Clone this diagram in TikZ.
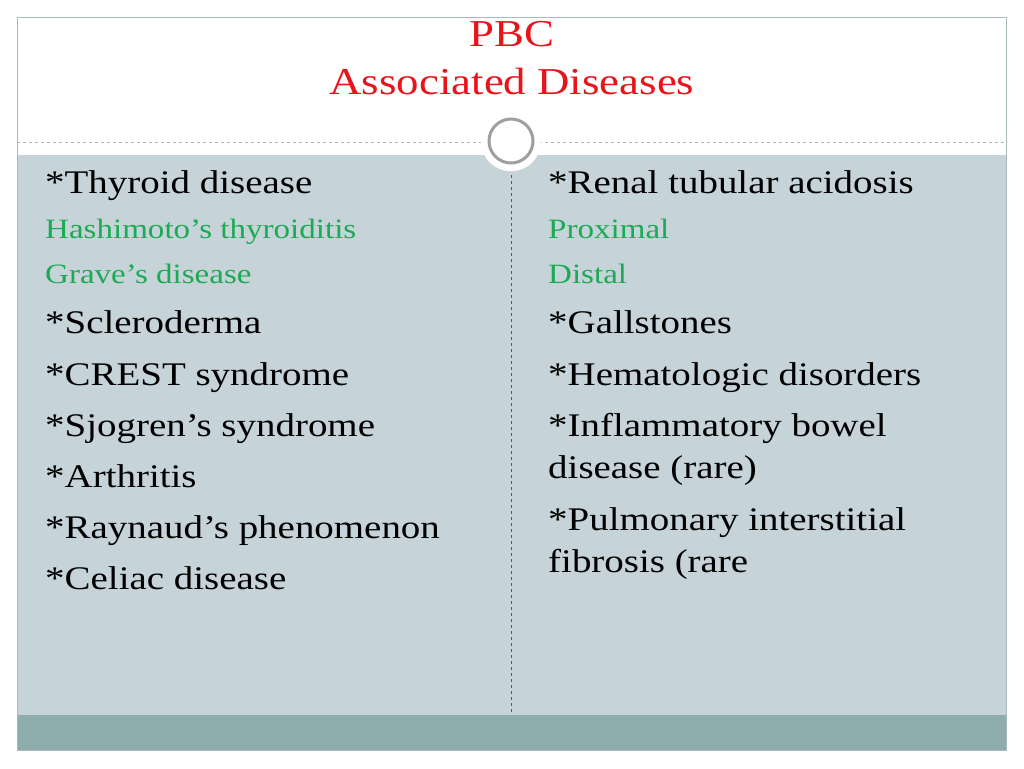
\documentclass[tikz,border=0pt]{standalone}
\usepackage{fontspec}
\setmainfont[FakeStretch=1.18]{Liberation Serif}
\definecolor{panel}{HTML}{C6D3D8}
\definecolor{band}{HTML}{8FACAD}
\definecolor{gr}{HTML}{1DAA55}
\definecolor{rd}{HTML}{E8141B}
\definecolor{frame}{HTML}{A9B8BC}
\begin{document}
\begin{tikzpicture}[x=1pt,y=-1pt,
  blk/.style={anchor=base west,inner sep=0pt,font=\fontsize{33}{38}\selectfont,text=black},
  grn/.style={anchor=base west,inner sep=0pt,font=\fontsize{28}{32}\selectfont,text=gr},
  ttl/.style={anchor=base,inner sep=0pt,font=\fontsize{38}{44}\selectfont,text=rd}]
\useasboundingbox[fill=white] (0,0) rectangle (1024,768);
\fill[panel] (17,155) rectangle (1006,715);
\fill[band] (17,715) rectangle (1006,750);
\draw[frame,line width=0.8pt] (17,17) rectangle (1006,750);
\draw[frame,dashed,line width=0.6pt] (17,142) -- (1006,142);
\draw[gray!70!black,dashed,line width=0.6pt] (511,175) -- (511,715);
\node[circle,fill=white,draw=white,minimum size=60pt,inner sep=0pt] (c) at (511,141) {};
\draw[gray!75,line width=3pt,fill=white] (c.center) circle (22pt);
\node[ttl] (t1) at (512,46) {PBC};
\node[ttl] (t2) at (512,94) {Associated Diseases};
\node[blk] (l1) at (45,193) {*Thyroid disease};
\node[grn] (l2) at (45,238) {Hashimoto’s thyroiditis};
\node[grn] (l3) at (45,283) {Grave’s disease};
\node[blk] (l4) at (45,333) {*Scleroderma};
\node[blk] (l5) at (45,385) {*CREST syndrome};
\node[blk] (l6) at (45,436) {*Sjogren’s syndrome};
\node[blk] (l7) at (45,487) {*Arthritis};
\node[blk] (l8) at (45,538) {*Raynaud’s phenomenon};
\node[blk] (l9) at (45,589) {*Celiac disease};
\node[blk] (r1) at (548,193) {*Renal tubular acidosis};
\node[grn] (r2) at (548,238) {Proximal};
\node[grn] (r3) at (548,283) {Distal};
\node[blk] (r4) at (548,333) {*Gallstones};
\node[blk] (r5) at (548,385) {*Hematologic disorders};
\node[blk] (r6) at (548,436) {*Inflammatory bowel};
\node[blk] (r7) at (548,478) {disease (rare)};
\node[blk] (r8) at (548,530) {*Pulmonary interstitial};
\node[blk] (r9) at (548,572) {fibrosis (rare};
\end{tikzpicture}
\end{document}
